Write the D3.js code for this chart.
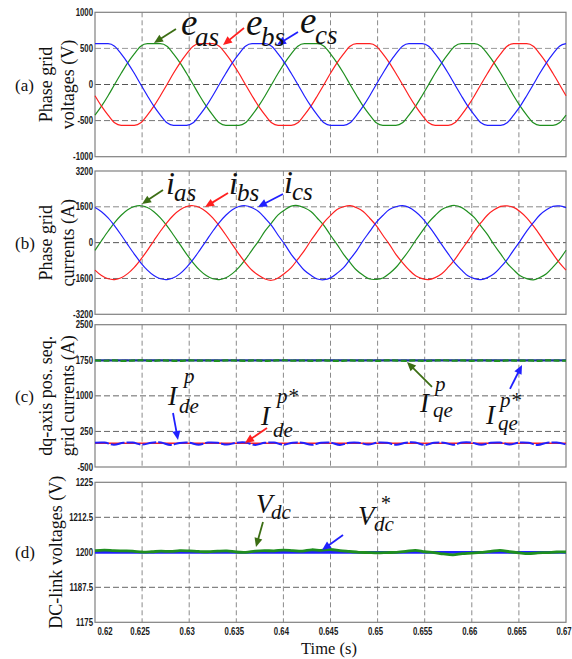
<!DOCTYPE html>
<html><head><meta charset="utf-8">
<script src="https://cdn.jsdelivr.net/npm/d3@7"></script>
<style>
html,body{margin:0;padding:0;background:#fff;}
svg{display:block;}
</style></head>
<body><svg id="c" width="572" height="659"></svg>
<script>
// ---------------- DATA ----------------
const timeTicks = [0.62,0.625,0.63,0.635,0.64,0.645,0.65,0.655,0.66,0.665,0.67];
const timeTickLabels = ["0.62","0.625","0.63","0.635","0.64","0.645","0.65","0.655","0.66","0.665","0.67"];

const ticksA = [-1000,-500,0,500,1000];
const ticksB = [-3200,-1600,0,1600,3200];
const ticksC = [-500,250,1000,1750,2500];
const ticksD = [1175,1187.5,1200,1212.5,1225];
const labelsD = ["1175","1187.5","1200","1212.5","1225"];

// sample times for phase waveforms (s)
const tPhase = [0.62000,0.62069,0.62139,0.62208,0.62278,0.62347,0.62417,0.62486,0.62556,0.62625,0.62694,0.62764,
0.62833,0.62903,0.62972,0.63042,0.63111,0.63181,0.63250,0.63319,0.63389,0.63458,0.63528,0.63597,
0.63667,0.63736,0.63806,0.63875,0.63944,0.64014,0.64083,0.64153,0.64222,0.64292,0.64361,0.64431,
0.64500,0.64569,0.64639,0.64708,0.64778,0.64847,0.64917,0.64986,0.65056,0.65125,0.65194,0.65264,
0.65333,0.65403,0.65472,0.65542,0.65611,0.65681,0.65750,0.65819,0.65889,0.65958,0.66028,0.66097,
0.66167,0.66236,0.66306,0.66375,0.66444,0.66514,0.66583,0.66653,0.66722,0.66792,0.66861,0.66931,0.67000];

// (a) phase grid voltages (V)
const eas = [-424,-300,-155,0,155,300,424,530,565,565,565,530,424,300,155,0,-155,-300,-424,-530,-565,-565,-565,-530,
-424,-300,-155,0,155,300,424,530,565,565,565,530,424,300,155,0,-155,-300,-424,-530,-565,-565,-565,-530,
-424,-300,-155,0,155,300,424,530,565,565,565,530,424,300,155,0,-155,-300,-424,-530,-565,-565,-565,-530,-424];
const ebs = [-155,-300,-424,-530,-565,-565,-565,-530,-424,-300,-155,0,155,300,424,530,565,565,565,530,424,300,155,0,
-155,-300,-424,-530,-565,-565,-565,-530,-424,-300,-155,0,155,300,424,530,565,565,565,530,424,300,155,0,
-155,-300,-424,-530,-565,-565,-565,-530,-424,-300,-155,0,155,300,424,530,565,565,565,530,424,300,155,0,-155];
const ecs = [565,565,565,530,424,300,155,0,-155,-300,-424,-530,-565,-565,-565,-530,-424,-300,-155,0,155,300,424,530,
565,565,565,530,424,300,155,0,-155,-300,-424,-530,-565,-565,-565,-530,-424,-300,-155,0,155,300,424,530,
565,565,565,530,424,300,155,0,-155,-300,-424,-530,-565,-565,-565,-530,-424,-300,-155,0,155,300,424,530,565];

// (b) phase grid currents (A)
const ias = [-343,86,510,899,1226,1470,1614,1648,1569,1384,1104,749,343,-86,-510,-899,-1226,-1470,-1614,-1648,-1569,-1384,-1104,-749,
-330,70,525,885,1240,1460,1630,1655,1560,1395,1090,760,330,-75,-520,-890,-1235,-1460,-1625,-1640,-1580,-1375,-1110,-740,
-350,95,500,910,1215,1480,1605,1660,1575,1370,1115,735,355,-95,-500,-910,-1215,-1480,-1605,-1665,-1560,-1390,-1095,-755,-340];
const ibs = [-1226,-1470,-1614,-1648,-1569,-1384,-1104,-749,-343,86,510,899,1226,1470,1614,1648,1569,1384,1104,749,343,-86,-510,-899,
-1235,-1460,-1625,-1680,-1575,-1370,-1115,-740,-355,95,500,910,1215,1480,1605,1655,1560,1395,1090,760,330,-75,-520,-890,
-1215,-1480,-1605,-1650,-1560,-1390,-1095,-755,-335,80,515,890,1235,1465,1620,1640,1575,1380,1110,745,350,-90,-505,-905,-1230];
const ics = [1569,1384,1104,749,343,-86,-510,-899,-1226,-1470,-1614,-1648,-1569,-1384,-1104,-749,-343,86,510,899,1226,1470,1614,1648,
1560,1395,1090,760,330,-75,-520,-890,-1235,-1460,-1625,-1655,-1575,-1370,-1115,-740,-355,95,500,910,1215,1480,1605,1655,
1575,1380,1110,745,350,-90,-505,-905,-1215,-1480,-1605,-1650,-1560,-1390,-1095,-755,-335,80,515,890,1235,1465,1620,1640,1565];

// sample times for dq and dc-link traces (s)
const tDq = [0.620,0.621,0.622,0.623,0.624,0.625,0.626,0.627,0.628,0.629,0.630,0.631,0.632,0.633,0.634,0.635,0.636,
0.637,0.638,0.639,0.640,0.641,0.642,0.643,0.644,0.645,0.646,0.647,0.648,0.649,0.650,0.651,0.652,0.653,0.654,
0.655,0.656,0.657,0.658,0.659,0.660,0.661,0.662,0.663,0.664,0.665,0.666,0.667,0.668,0.669,0.670];
const tRef = [0.62,0.67];

// (c) dq-axis positive sequence currents (A)
const iqe = [1745,1740,1748,1735,1744,1750,1738,1746,1742,1736,1749,1741,1745,1737,1748,1743,1739,1747,1736,1744,1750,1740,1745,1738,1748,1742,
1736,1747,1741,1745,1737,1749,1743,1739,1746,1735,1744,1750,1740,1746,1738,1748,1742,1736,1747,1741,1745,1737,1749,1743,1740];
const iqeRef = [1750,1750];
const ide = [12,15,-30,10,14,-28,12,16,-35,8,13,-30,15,10,-28,12,16,-34,9,14,-30,13,12,-33,10,15,-36,12,13,-28,14,9,-32,13,15,-35,
10,13,-30,15,12,-33,9,16,-28,13,10,-35,12,15,-26];
const ideRef = [0,0];

// (d) DC-link voltages (V)
const vdc = [1200.6,1200.8,1200.6,1200.5,1200.4,1200.1,1200.2,1200.4,1200.3,1200.6,1200.5,1200.3,1200.2,1200.4,1200.5,1200.1,1200.0,
1200.4,1200.6,1200.5,1200.8,1200.6,1200.4,1200.9,1200.7,1201.0,1200.6,1200.3,1200.0,1199.9,1199.8,1199.9,1200.0,1200.3,1200.7,
1200.2,1199.9,1199.4,1199.1,1199.5,1199.7,1200.0,1200.3,1200.7,1200.2,1199.8,1199.5,1199.8,1199.9,1200.1,1200.1];
const vdcRef = [1200,1200];

// ---------------- DRAW ----------------
const svg = d3.select("#c");
svg.append("rect").attr("width",572).attr("height",659).attr("fill","#fff");

const X0 = 95, X1 = 566;
const x = d3.scaleLinear().domain([0.62,0.67]).range([X0,X1]);

const GREEN = "#1f8f1f", RED = "#ff2020", BLUE = "#2020ff", DKGREEN = "#3c6e14";
const serif = "Liberation Serif";
const sans = "Liberation Sans";
const NARROW = 0.78;

const panels = [
  {id:"a", dom:[-1000,1000], rng:[156.7,12.3], ticks:ticksA, labels:ticksA.map(String),
   grid:[[500,"#9a9a9a"],[0,"#555"],[-500,"#777"]], title:["Phase grid","voltages (V)"], letter:"(a)"},
  {id:"b", dom:[-3200,3200], rng:[314.3,171], ticks:ticksB, labels:ticksB.map(String),
   grid:[[1600,"#888"],[0,"#555"],[-1600,"#777"]], title:["Phase grid","currents (A)"], letter:"(b)"},
  {id:"c", dom:[-500,2500], rng:[467,324.7], ticks:ticksC, labels:ticksC.map(String),
   grid:[[1750,"#666"],[1000,"#666"],[250,"#666"]], title:["dq-axis pos. seq.","grid currents (A)"], letter:"(c)"},
  {id:"d", dom:[1175,1225], rng:[622.3,482.3], ticks:ticksD, labels:labelsD,
   grid:[[1212.5,"#666"],[1200,"#666"],[1187.5,"#666"]], title:["DC-link voltages (V)"], letter:"(d)"}
];

panels.forEach(p => {
  p.y = d3.scaleLinear().domain(p.dom).range(p.rng);
  const g = svg.append("g");
  p.g = g;
  const top = p.rng[1], bot = p.rng[0];
  g.selectAll(".vg").data(timeTicks.slice(1,-1)).enter().append("line")
    .attr("x1",d=>x(d)).attr("x2",d=>x(d)).attr("y1",top).attr("y2",bot)
    .attr("stroke","#8a8a8a").attr("stroke-width",1).attr("stroke-dasharray","5,3");
  g.selectAll(".hg").data(p.grid).enter().append("line")
    .attr("x1",X0).attr("x2",X1).attr("y1",d=>p.y(d[0])).attr("y2",d=>p.y(d[0]))
    .attr("stroke",d=>d[1]).attr("stroke-width",1).attr("stroke-dasharray","6,3");
  g.append("rect").attr("x",X0).attr("y",top).attr("width",X1-X0).attr("height",bot-top)
    .attr("fill","none").attr("stroke","#808080").attr("stroke-width",1.2);
  g.selectAll(".yt").data(p.ticks).enter().append("text")
    .attr("transform",d=>`translate(${X0-2},${p.y(d)+3.5}) scale(${NARROW},1)`)
    .attr("text-anchor","end").attr("font-family",sans).attr("font-weight","bold")
    .attr("font-size",10).attr("fill","#1a1a1a")
    .text((d,i)=>p.labels[i]);
  const cy = (top+bot)/2;
  const tx = p.title.length===2 ? [52,74] : [62];
  p.title.forEach((t,i)=>{
    svg.append("text").attr("transform",`translate(${tx[i]},${cy}) rotate(-90)`)
      .attr("text-anchor","middle").attr("font-family",serif).attr("font-size",18).attr("fill","#111").text(t);
  });
  svg.append("text").attr("x",15).attr("y",cy+6).attr("font-family",serif).attr("font-size",17)
    .attr("fill","#111").text(p.letter);
});

const [pa,pb,pc,pd] = panels;

function drawLine(p, ts, vs, color, width, dash, curve){
  const line = d3.line().x((d,i)=>x(ts[i])).y(d=>p.y(d)).curve(curve||d3.curveMonotoneX);
  const path = p.g.append("path").datum(vs).attr("d",line).attr("fill","none")
    .attr("stroke",color).attr("stroke-width",width).attr("stroke-linejoin","round");
  if (dash) path.attr("stroke-dasharray",dash);
  return path;
}

drawLine(pa,tPhase,eas,GREEN,1.2);
drawLine(pa,tPhase,ebs,RED,1.2);
drawLine(pa,tPhase,ecs,BLUE,1.2);
drawLine(pb,tPhase,ias,GREEN,1.2,null,d3.curveCatmullRom);
drawLine(pb,tPhase,ibs,RED,1.2,null,d3.curveCatmullRom);
drawLine(pb,tPhase,ics,BLUE,1.2,null,d3.curveCatmullRom);
drawLine(pc,tRef,iqeRef,"#1c2fa0",2.2,null,d3.curveLinear);
drawLine(pc,tDq,iqe,GREEN,2.2,"6,2.5",d3.curveCatmullRom);
drawLine(pc,tRef,ideRef,RED,1.6,null,d3.curveLinear);
drawLine(pc,tDq,ide,BLUE,2,"14,2",d3.curveCatmullRom);
drawLine(pd,tRef,vdcRef,BLUE,2.8,null,d3.curveLinear);
drawLine(pd,tDq,vdc,GREEN,2.8,null,d3.curveCatmullRom);

svg.append("g").selectAll("text").data(timeTicks).enter().append("text")
  .attr("transform",(d,i)=>`translate(${i===0 ? x(d)+10 : x(d)-2},635) scale(${NARROW},1)`)
  .attr("text-anchor","middle").attr("font-family",sans)
  .attr("font-weight","bold").attr("font-size",10).attr("fill","#1a1a1a")
  .text((d,i)=>timeTickLabels[i]);
svg.append("text").attr("x",329).attr("y",654).attr("text-anchor","middle")
  .attr("font-family",serif).attr("font-size",16.5).attr("fill","#111").text("Time (s)");

// ---------------- ANNOTATIONS ----------------
function arrowHead(p, tip, tail, color){
  const dx = tip[0]-tail[0], dy = tip[1]-tail[1], L = Math.hypot(dx,dy);
  const ux = dx/L, uy = dy/L, hl = 9, hw = 4;
  const bx = tip[0]-ux*hl, by = tip[1]-uy*hl;
  p.g.append("line").attr("x1",tail[0]).attr("y1",tail[1]).attr("x2",bx+ux*2).attr("y2",by+uy*2)
    .attr("stroke",color).attr("stroke-width",1.8);
  p.g.append("path").attr("d",`M${tip[0]},${tip[1]}L${bx-uy*hw},${by+ux*hw}L${bx+uy*hw},${by-ux*hw}Z`)
    .attr("fill",color);
}
const annotations = [
  {p:pa, t:0.62626, v:575, tail:[22,-14], color:DKGREEN, parts:[["e",27,-8,37],["as",41,3,27]]},
  {p:pa, t:0.63359, v:547, tail:[21,-17], color:RED, parts:[["e",23,-10,37],["bs",38,1,27]]},
  {p:pa, t:0.63932, v:547, tail:[21,-13], color:BLUE, parts:[["e",23,-12,37],["cs",38,-1,27]]},
  {p:pb, t:0.62499, v:1726, tail:[21,-14], color:DKGREEN, parts:[["i",24,-10,32],["as",32,-3,25]]},
  {p:pb, t:0.63168, v:1592, tail:[23,-14], color:RED, parts:[["i",24,-13,32],["bs",32,-6,25]]},
  {p:pb, t:0.63730, v:1592, tail:[25,-13], color:BLUE, parts:[["i",26,-14,32],["cs",34,-7,25]]},
  {p:pc, t:0.62881, v:70, tail:[-5,-27], color:BLUE, parts:[["I",-10,-35,27],["p",6,-57,21],["de",1,-27,21]]},
  {p:pc, t:0.63592, v:6, tail:[22,-15], color:RED, parts:[["I",16,-18,27],["p*",32,-40,21],["de",28,-6,21]]},
  {p:pc, t:0.65312, v:1714, tail:[25,25], color:DKGREEN, parts:[["I",13,50,27],["p",28,29,21],["qe",26,55,21]]},
  {p:pc, t:0.66533, v:1651, tail:[-12,24], color:BLUE, parts:[["I",-36,59,27],["p*",-22,42,21],["qe",-24,65,21]]},
  {p:pd, t:0.63709, v:1201.9, tail:[7,-25], color:DKGREEN, parts:[["V",0,-34,27],["dc",15,-28,21]]},
  {p:pd, t:0.64410, v:1200.8, tail:[21,-15], color:BLUE, parts:[["V",36,-25,27],["*",58,-40,20],["dc",52,-19,21]]}
];
annotations.forEach(a=>{
  const tip = [x(a.t), a.p.y(a.v)];
  arrowHead(a.p, tip, [tip[0]+a.tail[0], tip[1]+a.tail[1]], a.color);
  a.parts.forEach(([s,dx,dy,fs])=>{
    svg.append("text").attr("x",tip[0]+dx).attr("y",tip[1]+dy)
      .attr("font-family",serif).attr("font-style","italic").attr("font-size",fs)
      .attr("fill","#111").text(s);
  });
});
</script>
</body></html>
